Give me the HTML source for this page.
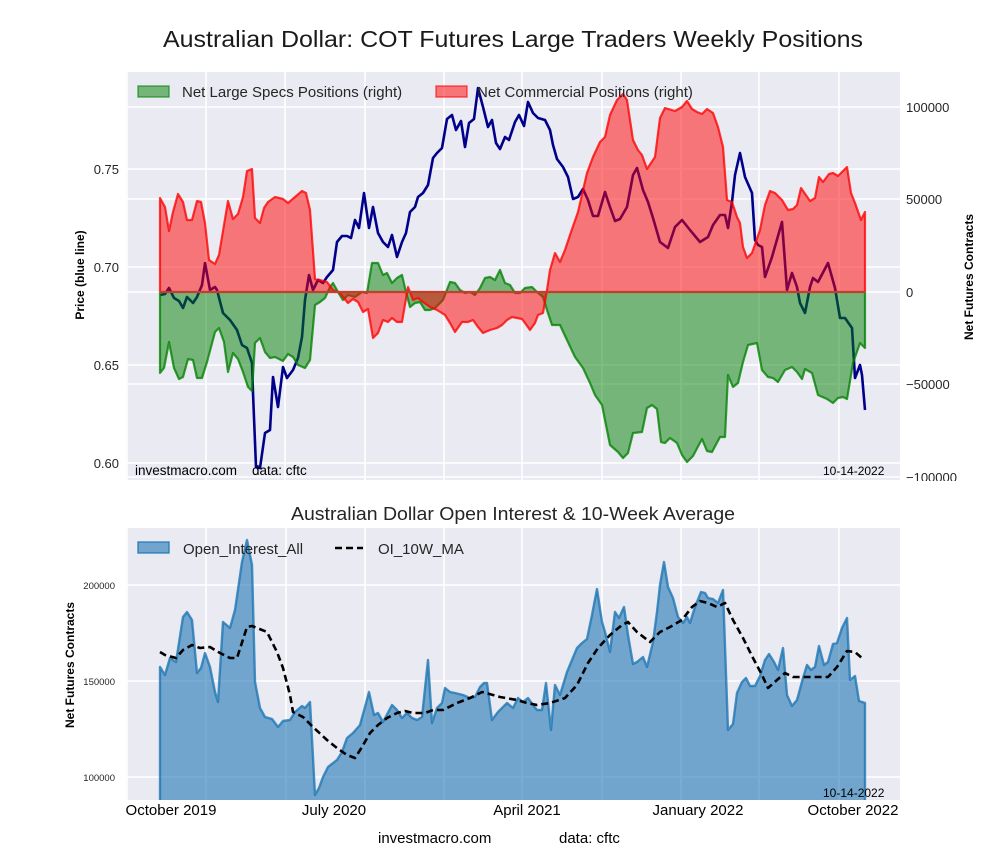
<!DOCTYPE html>
<html><head><meta charset="utf-8"><style>
html,body{margin:0;padding:0;background:#fff;}
svg{display:block;font-family:"Liberation Sans",sans-serif;}
</style></head><body>
<svg width="1000" height="860" viewBox="0 0 1000 860" xmlns="http://www.w3.org/2000/svg">
<defs>
<clipPath id="ct"><rect x="126" y="72" width="774" height="408"/></clipPath>
<clipPath id="cb"><rect x="126" y="528" width="774" height="272"/></clipPath>
</defs>
<rect width="1000" height="860" fill="#fff"/>

<text x="513" y="47" font-size="23" fill="#1a1a1a" text-anchor="middle" textLength="700" lengthAdjust="spacingAndGlyphs">Australian Dollar: COT Futures Large Traders Weekly Positions</text>

<!-- TOP AXES -->
<rect x="126" y="72" width="774" height="408" fill="#EAEAF2"/>
<g clip-path="url(#ct)" stroke="#fff" stroke-width="1.6">
<line x1="127" y1="72" x2="127" y2="480"/><line x1="206" y1="72" x2="206" y2="480"/><line x1="285" y1="72" x2="285" y2="480"/><line x1="365" y1="72" x2="365" y2="480"/><line x1="444" y1="72" x2="444" y2="480"/><line x1="522" y1="72" x2="522" y2="480"/><line x1="602" y1="72" x2="602" y2="480"/><line x1="681" y1="72" x2="681" y2="480"/><line x1="759" y1="72" x2="759" y2="480"/><line x1="839" y1="72" x2="839" y2="480"/>
<line x1="126" y1="169" x2="900" y2="169"/><line x1="126" y1="267" x2="900" y2="267"/><line x1="126" y1="365" x2="900" y2="365"/><line x1="126" y1="463" x2="900" y2="463"/>
<line x1="126" y1="107" x2="900" y2="107"/><line x1="126" y1="199" x2="900" y2="199"/><line x1="126" y1="292" x2="900" y2="292"/><line x1="126" y1="384" x2="900" y2="384"/><line x1="126" y1="477" x2="900" y2="477"/>
</g>
<g clip-path="url(#ct)">
<polyline fill="none" stroke="#00008B" stroke-width="2.6" stroke-linejoin="round" points="160,295 165,294 169,288 174,298 179,301 183,308 187,297 193,303 197,297 202,285 205,263 210,290 215,287 217,290 223,313 230,320 237,330 242,345 247,348 252,363 253,393 256,467 260,468 265,433 270,430 273,377 278,407 283,367 287,378 293,370 298,358 302,337 305,300 309,275 313,290 318,280 323,283 327,277 333,270 337,242 342,236 347,236 351,238 355,220 359,228 364,193 369,228 373,207 378,233 383,242 388,247 392,235 397,257 402,242 406,233 410,212 415,207 418,197 423,193 428,185 433,158 437,153 442,148 447,119 452,115 456,130 461,121 465,147 469,123 474,119 478,88 483,107 488,127 492,120 496,143 500,149 505,137 509,140 515,122 519,115 524,126 528,102 533,113 538,118 545,120 550,130 553,145 557,159 563,167 568,177 573,199 578,197 583,189 588,200 593,216 598,216 605,192 610,207 615,221 620,219 627,207 633,175 637,168 643,190 648,202 653,218 660,242 668,248 675,227 682,220 690,230 700,242 708,237 713,225 720,215 725,215 728,228 732,202 735,175 740,153 745,177 752,193 755,240 758,245 762,247 765,277 772,257 782,222 787,290 792,273 797,287 800,303 805,313 810,287 813,278 818,282 828,263 835,288 840,318 845,318 852,328 855,378 860,365 862,375 865,410"/>
<polygon fill="#008000" fill-opacity="0.5" stroke="none" points="160,373 164,368 169,342 174,368 179,379 183,377 188,359 193,360 197,378 202,378 207,362 215,332 219,328 224,342 228,372 233,353 238,359 243,372 248,387 252,391 255,343 260,338 265,352 270,358 275,357 283,361 288,354 293,357 298,365 305,368 310,360 315,305 320,302 325,298 330,287 333,283 338,292 343,300 348,295 355,297 362,292 367,293 372,263 378,263 383,275 387,273 392,283 397,278 402,275 405,288 410,307 415,303 420,302 425,310 430,310 435,308 443,300 450,282 455,283 460,290 465,293 470,292 475,295 480,288 485,278 490,277 495,280 500,270 505,283 510,285 515,293 520,293 525,288 532,287 537,292 543,297 547,310 552,325 560,325 567,340 575,357 583,368 590,383 595,395 602,405 610,445 618,452 623,458 628,453 633,433 642,432 647,408 652,405 657,409 661,442 665,443 670,438 677,443 682,455 687,462 693,456 702,439 707,451 712,452 720,437 725,437 728,375 733,387 738,383 743,362 748,345 757,343 762,370 768,377 773,378 778,382 785,370 792,367 797,372 802,379 805,369 812,373 818,395 827,399 833,403 838,398 843,397 847,399 853,363 860,343 865,348 865,292 160,292"/>
<polyline fill="none" stroke="#008000" stroke-opacity="0.78" stroke-width="2.2" stroke-linejoin="round" points="160,292 160,373 164,368 169,342 174,368 179,379 183,377 188,359 193,360 197,378 202,378 207,362 215,332 219,328 224,342 228,372 233,353 238,359 243,372 248,387 252,391 255,343 260,338 265,352 270,358 275,357 283,361 288,354 293,357 298,365 305,368 310,360 315,305 320,302 325,298 330,287 333,283 338,292 343,300 348,295 355,297 362,292 367,293 372,263 378,263 383,275 387,273 392,283 397,278 402,275 405,288 410,307 415,303 420,302 425,310 430,310 435,308 443,300 450,282 455,283 460,290 465,293 470,292 475,295 480,288 485,278 490,277 495,280 500,270 505,283 510,285 515,293 520,293 525,288 532,287 537,292 543,297 547,310 552,325 560,325 567,340 575,357 583,368 590,383 595,395 602,405 610,445 618,452 623,458 628,453 633,433 642,432 647,408 652,405 657,409 661,442 665,443 670,438 677,443 682,455 687,462 693,456 702,439 707,451 712,452 720,437 725,437 728,375 733,387 738,383 743,362 748,345 757,343 762,370 768,377 773,378 778,382 785,370 792,367 797,372 802,379 805,369 812,373 818,395 827,399 833,403 838,398 843,397 847,399 853,363 860,343 865,348 865,292"/>
<polygon fill="#FF0000" fill-opacity="0.5" stroke="none" points="160,198 165,207 169,231 173,212 178,194 183,202 187,220 192,220 197,201 201,202 205,223 209,260 215,264 219,255 228,201 233,219 238,214 243,197 247,171 252,169 255,218 260,223 264,208 268,202 275,197 283,199 288,203 295,197 302,191 306,193 310,210 315,279 320,280 327,282 333,290 340,293 343,297 348,303 353,299 358,302 363,312 368,309 373,338 378,333 383,320 388,322 392,318 397,322 402,322 408,287 413,300 418,298 423,302 430,307 437,310 445,315 450,323 455,332 462,322 468,322 473,320 478,327 483,333 490,330 497,328 502,325 507,320 512,317 517,318 522,319 525,323 530,330 535,323 538,315 543,313 547,290 550,270 555,253 560,262 565,250 570,235 578,212 587,173 593,157 600,142 605,137 610,115 617,100 623,94 627,100 633,140 638,150 642,155 647,169 655,157 660,118 665,108 675,111 682,107 687,101 692,109 697,112 702,114 707,109 713,113 718,127 723,147 727,200 732,202 737,217 740,223 743,247 747,258 752,253 760,230 765,205 770,191 775,193 782,200 788,210 793,209 797,205 801,188 810,201 815,198 819,177 823,182 829,174 833,173 838,176 847,167 851,193 855,203 861,220 865,212 865,292 160,292"/>
<polyline fill="none" stroke="#FF0000" stroke-opacity="0.78" stroke-width="2.2" stroke-linejoin="round" points="160,292 160,198 165,207 169,231 173,212 178,194 183,202 187,220 192,220 197,201 201,202 205,223 209,260 215,264 219,255 228,201 233,219 238,214 243,197 247,171 252,169 255,218 260,223 264,208 268,202 275,197 283,199 288,203 295,197 302,191 306,193 310,210 315,279 320,280 327,282 333,290 340,293 343,297 348,303 353,299 358,302 363,312 368,309 373,338 378,333 383,320 388,322 392,318 397,322 402,322 408,287 413,300 418,298 423,302 430,307 437,310 445,315 450,323 455,332 462,322 468,322 473,320 478,327 483,333 490,330 497,328 502,325 507,320 512,317 517,318 522,319 525,323 530,330 535,323 538,315 543,313 547,290 550,270 555,253 560,262 565,250 570,235 578,212 587,173 593,157 600,142 605,137 610,115 617,100 623,94 627,100 633,140 638,150 642,155 647,169 655,157 660,118 665,108 675,111 682,107 687,101 692,109 697,112 702,114 707,109 713,113 718,127 723,147 727,200 732,202 737,217 740,223 743,247 747,258 752,253 760,230 765,205 770,191 775,193 782,200 788,210 793,209 797,205 801,188 810,201 815,198 819,177 823,182 829,174 833,173 838,176 847,167 851,193 855,203 861,220 865,212 865,292"/>
<line x1="160" y1="292" x2="865" y2="292" stroke="#C0402E" stroke-width="2.2"/>
</g>
<!-- top legend -->
<rect x="138" y="86" width="31" height="11" fill="#008000" fill-opacity="0.5" stroke="#008000" stroke-opacity="0.6" stroke-width="1.5"/>
<text x="182" y="97" font-size="15" fill="#262626">Net Large Specs Positions (right)</text>
<rect x="436" y="86" width="31" height="11" fill="#FF0000" fill-opacity="0.5" stroke="#FF0000" stroke-opacity="0.6" stroke-width="1.5"/>
<text x="477" y="97" font-size="15" fill="#262626">Net Commercial Positions (right)</text>
<text x="135" y="475" font-size="13.5" fill="#000">investmacro.com</text>
<text x="252" y="475" font-size="13.5" fill="#000">data: cftc</text>
<text x="823" y="475" font-size="12" fill="#000">10-14-2022</text>
<!-- top ticks -->
<g font-size="13" fill="#262626" text-anchor="end">
<text x="119" y="174">0.75</text><text x="119" y="272">0.70</text><text x="119" y="370">0.65</text><text x="119" y="468">0.60</text>
</g>
<g font-size="13" fill="#262626">
<text x="906" y="112">100000</text><text x="906" y="204">50000</text><text x="906" y="297">0</text><text x="906" y="389">−50000</text><text x="906" y="482">−100000</text>
</g>
<rect x="900" y="481" width="100" height="20" fill="#fff"/>
<text transform="translate(84,275) rotate(-90)" font-size="12" font-weight="bold" fill="#000" text-anchor="middle">Price (blue line)</text>
<text transform="translate(973,277) rotate(-90)" font-size="12" font-weight="bold" fill="#000" text-anchor="middle">Net Futures Contracts</text>

<!-- BOTTOM AXES -->
<text x="513" y="520" font-size="18.5" fill="#262626" text-anchor="middle" textLength="444" lengthAdjust="spacingAndGlyphs">Australian Dollar Open Interest &amp; 10-Week Average</text>
<rect x="126" y="528" width="774" height="272" fill="#EAEAF2"/>
<g clip-path="url(#cb)" stroke="#fff" stroke-width="1.6">
<line x1="127" y1="528" x2="127" y2="800"/><line x1="206" y1="528" x2="206" y2="800"/><line x1="286" y1="528" x2="286" y2="800"/><line x1="365" y1="528" x2="365" y2="800"/><line x1="444" y1="528" x2="444" y2="800"/><line x1="522" y1="528" x2="522" y2="800"/><line x1="602" y1="528" x2="602" y2="800"/><line x1="681" y1="528" x2="681" y2="800"/><line x1="759" y1="528" x2="759" y2="800"/><line x1="839" y1="528" x2="839" y2="800"/>
<line x1="126" y1="585" x2="900" y2="585"/><line x1="126" y1="681" x2="900" y2="681"/><line x1="126" y1="777" x2="900" y2="777"/>
</g>
<g clip-path="url(#cb)">
<polygon fill="#1f77b4" fill-opacity="0.6" stroke="#1f77b4" stroke-opacity="0.8" stroke-width="2.4" stroke-linejoin="round" points="160,667 165,675 170,658 176,662 183,617 187,612 192,620 197,673 201,668 205,653 210,667 215,692 218,702 223,622 230,628 235,610 242,562 247,540 252,565 255,682 260,708 265,717 272,719 278,727 283,721 290,720 295,712 302,706 305,708 310,702 315,795 319,788 323,777 328,767 337,760 342,752 347,738 353,733 360,725 365,707 369,692 374,715 378,713 383,722 392,705 397,710 402,718 407,713 412,718 417,720 422,717 428,660 432,723 437,708 442,703 445,688 450,692 455,693 463,695 470,698 475,697 480,687 484,683 487,683 492,720 498,712 507,703 513,708 518,698 523,702 528,698 533,705 537,710 542,710 546,683 551,730 555,685 560,695 567,672 572,660 577,648 582,643 587,639 592,615 597,589 602,622 605,632 610,652 615,612 619,618 624,607 628,635 633,664 637,662 643,657 647,667 653,642 657,612 660,585 664,562 668,587 673,598 678,617 683,623 687,617 690,623 695,607 701,592 705,593 708,598 713,599 718,603 723,590 728,730 733,724 737,693 742,682 746,678 750,686 755,686 760,676 765,660 769,654 774,662 778,670 783,648 787,695 792,706 797,700 803,678 807,665 811,670 815,667 819,646 824,665 828,662 833,644 837,643 842,628 847,618 850,680 855,676 859,701 865,703 865,820 160,820"/>
<polyline fill="none" stroke="#000" stroke-width="2.6" stroke-dasharray="7,4" stroke-linejoin="round" points="160,652 165,655 176,658 183,650 192,645 200,648 210,647 220,653 230,658 237,658 247,627 252,626 267,632 277,652 283,668 290,695 293,712 303,717 313,727 327,740 337,748 347,755 355,758 362,747 370,733 378,725 387,718 397,713 405,711 413,713 425,713 433,710 443,710 457,703 470,698 482,692 493,695 500,697 517,700 527,703 537,705 550,703 565,698 577,685 588,663 598,648 610,635 622,625 628,622 637,632 650,642 660,632 670,627 682,620 692,607 700,601 708,603 717,607 725,603 733,620 743,638 753,658 762,675 768,688 777,680 785,673 793,677 803,677 815,677 828,677 837,667 847,651 855,652 863,659"/>
</g>
<!-- bottom legend -->
<rect x="138" y="542" width="31" height="11" fill="#1f77b4" fill-opacity="0.6" stroke="#1f77b4" stroke-opacity="0.8" stroke-width="1.5"/>
<text x="183" y="554" font-size="15" fill="#262626">Open_Interest_All</text>
<line x1="335" y1="548" x2="363" y2="548" stroke="#000" stroke-width="2.6" stroke-dasharray="7,4"/>
<text x="378" y="554" font-size="15" fill="#262626">OI_10W_MA</text>
<text x="823" y="797" font-size="12" fill="#000">10-14-2022</text>
<g font-size="9.5" fill="#262626" text-anchor="end">
<text x="115" y="589">200000</text><text x="115" y="685">150000</text><text x="115" y="781">100000</text>
</g>
<text transform="translate(74,665) rotate(-90)" font-size="12" font-weight="bold" fill="#000" text-anchor="middle">Net Futures Contracts</text>
<g font-size="15" fill="#000" text-anchor="middle">
<text x="171" y="815">October 2019</text><text x="334" y="815">July 2020</text><text x="527" y="815">April 2021</text><text x="698" y="815">January 2022</text><text x="853" y="815">October 2022</text>
</g>
<text x="378" y="843" font-size="15" fill="#000">investmacro.com</text>
<text x="559" y="843" font-size="15" fill="#000">data: cftc</text>
</svg>
</body></html>
